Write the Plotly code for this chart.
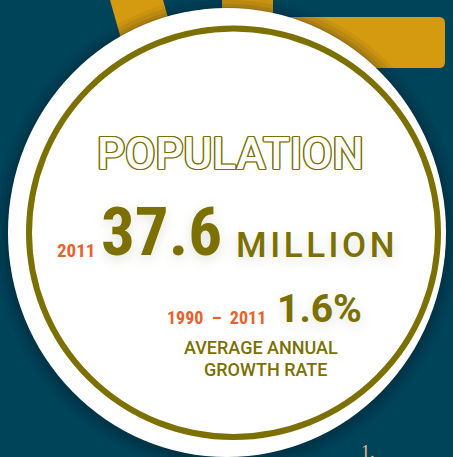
import plotly.graph_objects as go

W, H = 453, 457

# ---- content (text values) ----
title_text = "POPULATION"
pop_year = "2011"
pop_value = "37.6"
pop_unit = "MILLION"
growth_period = "1990 – 2011"
growth_value = "1.6%"
growth_label = ["AVERAGE ANNUAL", "GROWTH RATE"]
footer_mark = "1."

NAVY = "#00445a"
GOLD = "#d49a10"
OLIVE = "#7b7000"
ORANGE = "#e6622c"
PEACH = "#f0b48c"
NARROW = "Roboto Condensed, Noto Sans Condensed, Liberation Sans Narrow, Roboto"

fig = go.Figure()
fig.add_trace(go.Scatter(x=[0, W], y=[0, H], mode="markers", marker=dict(opacity=0), hoverinfo="skip", showlegend=False))

shapes = []
# gold decorative bars behind the circle
shapes.append(dict(type="path", path="M110,0 L163,0 L180,60 L127,60 Z", fillcolor=GOLD, line=dict(width=0), layer="below"))
shapes.append(dict(type="rect", x0=222, x1=273, y0=0, y1=40, fillcolor=GOLD, line=dict(width=0), layer="below"))
shapes.append(dict(type="path",
                   path="M290,17 L439,17 Q445,17 445,23 L445,62 Q445,68 439,68 L290,68 Z",
                   fillcolor=GOLD, line=dict(width=0), layer="below"))
# soft shadow around the circle
for pad, a in [(14, 0.05), (10, 0.07), (6, 0.09), (3, 0.12)]:
    shapes.append(dict(type="circle", x0=8 - pad, x1=446 + pad, y0=8 - pad + 2, y1=457 + pad + 2,
                       fillcolor=f"rgba(0,20,30,{a})", line=dict(width=0), layer="below"))
# white disc
shapes.append(dict(type="circle", x0=8, x1=446, y0=8, y1=457, fillcolor="white", line=dict(width=0), layer="below"))
# olive ring
shapes.append(dict(type="circle", x0=29, x1=438, y0=28.5, y1=437, fillcolor="rgba(0,0,0,0)",
                   line=dict(color=OLIVE, width=6), layer="below"))

glow = "0px 4px 12px rgba(120,120,80,0.22)"
o = OLIVE
outline = (f"1.4px 0px 0px {o}, -1.4px 0px 0px {o}, 0px 1.4px 0px {o}, 0px -1.4px 0px {o}, "
           f"1px 1px 0px {o}, -1px -1px 0px {o}, 1px -1px 0px {o}, -1px 1px 0px {o}")

ann = []
def add(text, x, y, size, color, family, weight="normal", xanchor="center", shadow=None):
    f = dict(size=size, color=color, family=family, weight=weight)
    if shadow:
        f["shadow"] = shadow
    ann.append(dict(text=text, x=x, y=y, xref="x", yref="y", xanchor=xanchor, yanchor="middle",
                    showarrow=False, font=f))

add(title_text, 230, 154, 44, "white", "Roboto", 500, shadow=outline)
add(pop_year, 97, 250, 19, ORANGE, NARROW, "bold", xanchor="right")
add(pop_value, 99, 232, 67, OLIVE, NARROW, "bold", xanchor="left", shadow=glow)
add("\u200a".join(pop_unit), 234, 245, 35, OLIVE, "Roboto", 500, xanchor="left", shadow=glow)
add(growth_period.replace(" ", "\u00a0\u00a0"), 268, 317, 18, ORANGE, NARROW, "bold", xanchor="right")
add(growth_value, 275, 309, 39, OLIVE, "Roboto", "bold", xanchor="left", shadow=glow)
add(growth_label[0], 261, 347, 18, OLIVE, "Roboto", 500)
add(growth_label[1], 265, 369, 18, OLIVE, "Roboto", 500)
add(footer_mark, 359, 452, 18, PEACH, "Liberation Serif, serif", "normal", xanchor="left")

fig.update_layout(
    width=W, height=H, margin=dict(l=0, r=0, t=0, b=0),
    paper_bgcolor=NAVY, plot_bgcolor=NAVY,
    xaxis=dict(range=[0, W], visible=False, fixedrange=True),
    yaxis=dict(range=[H, 0], visible=False, fixedrange=True),
    shapes=shapes, annotations=ann, showlegend=False,
)
fig.write_html("out.html", config={"displayModeBar": False},
               post_script="document.body.style.margin='0';document.body.style.padding='0';document.body.style.overflow='hidden';")
